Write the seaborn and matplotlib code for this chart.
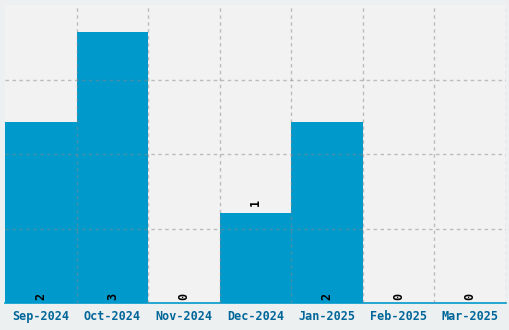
import matplotlib
matplotlib.use("Agg")
import matplotlib.pyplot as plt
import seaborn as sns
import pandas as pd
import numpy as np

months = ["Sep-2024", "Oct-2024", "Nov-2024", "Dec-2024", "Jan-2025", "Feb-2025", "Mar-2025"]
counts = [2, 3, 0, 1, 2, 0, 0]

sns.set_style("white")
plt.rcParams['font.family'] = ['DejaVu Sans Mono', 'DejaVu Sans']

df = pd.DataFrame({"month": months, "count": counts})

fig = plt.figure(figsize=(5.1, 3.3), dpi=100, facecolor="#edf0f1")
ax = fig.add_axes([5/510, 27/330, 501/510, 298/330])
ax.set_facecolor("#f2f2f2")

sns.barplot(data=df, x="month", y="count", color="#0099cc", saturation=1,
            width=1.0, ax=ax, zorder=2, linewidth=0, edgecolor="none")

ymax = 3.3
ax.set_xlim(-0.5, len(months) - 0.5)
ax.set_ylim(0, ymax)
ax.set_yticks(np.linspace(0, ymax, 5)[1:4])
ax.set_yticklabels([])
ax.set_xticks(np.arange(len(months)) + 0.5, minor=True)
ax.tick_params(axis="y", length=0)
ax.tick_params(axis="x", which="both", length=0, pad=5)
ax.set_xticklabels(months, fontsize=8.5, fontweight="bold", color="#006699")
ax.set_xlabel("")
ax.set_ylabel("")

ax.grid(False)
ax.yaxis.grid(True, linestyle=(0, (2.5, 2.5)), color="#888888", alpha=0.5, linewidth=1, zorder=3)
ax.xaxis.grid(True, which="minor", linestyle=(0, (2.5, 2.5)), color="#888888", alpha=0.5, linewidth=1, zorder=3)
ax.set_axisbelow(False)

for s in ["top", "right", "left"]:
    ax.spines[s].set_visible(False)
ax.spines["bottom"].set_color("#0099cc")
ax.spines["bottom"].set_linewidth(1.2)

for i, v in enumerate(counts):
    if v == 1:
        y, va = v + 0.07, "bottom"
    else:
        y, va = 0.03, "bottom"
    ax.text(i, y, str(v), rotation=90, ha="center", va=va,
            fontsize=8.5, fontweight="bold", color="black", zorder=4)

fig.savefig("out.png", dpi=100, facecolor=fig.get_facecolor())
